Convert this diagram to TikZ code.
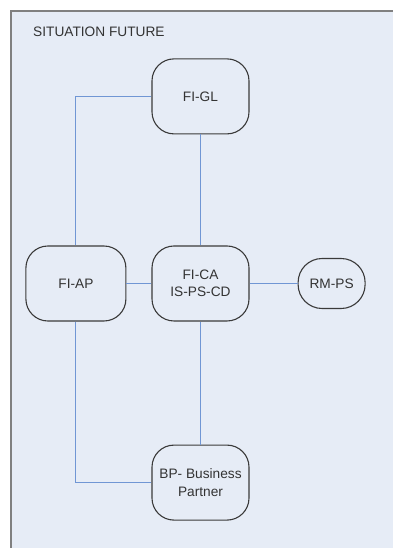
\documentclass[tikz,border=0pt]{standalone}
\usepackage{fontspec}
\setmainfont{Liberation Sans}
\usetikzlibrary{positioning}
\usepackage{xcolor}

\definecolor{panelfill}{HTML}{E6ECF6}
\definecolor{panelline}{HTML}{808080}
\definecolor{linkblue}{HTML}{7096D4}
\definecolor{boxline}{HTML}{3A3A3A}

\begin{document}
\begin{tikzpicture}[
x=1pt, y=1pt,
font=\fontsize{13.7}{17.5}\selectfont,
module/.style={draw=boxline,
line width=1.1pt,
rectangle,
rounded corners=22pt,
minimum width=97pt,
minimum height=75pt,
text=black!80,
align=center},
link/.style={draw=linkblue, line width=0.9pt}
]

\useasboundingbox (0,0) rectangle (393,548);

% panel behind the modules
\fill[panelfill] (11,0) rectangle (393,537);
\draw[panelline, line width=2pt] (11,0) -- (11,537) -- (393,537);
\node[anchor=west, inner sep=0pt, text=black!80] (title) at (33,516) {SITUATION FUTURE};

\node[module] (fica) at (200.5,264.5) {FI-CA\\IS-PS-CD};
\node[module, above=111pt of fica] (figl) {FI-GL};
\node[module, minimum width=100pt, left=25pt of fica] (fiap) {FI-AP};
\node[module, minimum width=67pt, minimum height=50pt, rounded corners=24pt, right=48pt of fica] (rmps) {RM-PS};
\node[module, below=123pt of fica] (bp) {BP- Business\\Partner};

\draw[link] (figl.west) -| (fiap.north);
\draw[link] (figl) -- (fica);
\draw[link] (fiap) -- (fica);
\draw[link] (fica) -- (rmps);
\draw[link] (fica) -- (bp);
\draw[link] (fiap.south) |- (bp.west);

\end{tikzpicture}
\end{document}
